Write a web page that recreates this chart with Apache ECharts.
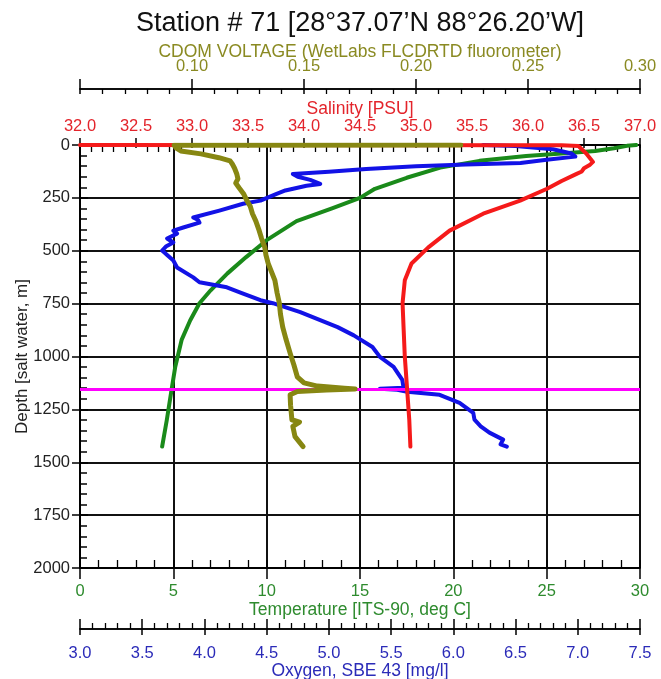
<!DOCTYPE html>
<html>
<head>
<meta charset="utf-8">
<script src="https://cdn.jsdelivr.net/npm/echarts@6/dist/echarts.min.js"></script>
<style>
html,body{margin:0;padding:0;background:#fff;}
#chart{width:661px;height:679px;}
</style>
</head>
<body>
<div id="chart"></div>
<script>
// ---------- data ----------
const titleText = "Station # 71 [28\u00B037.07\u2019N 88\u00B026.20\u2019W]";

const tempDepth = [0, 4, 15, 28, 40, 52, 75, 107, 155, 207, 250, 300, 360, 450, 530, 607, 687, 748, 830, 920, 1050, 1160, 1300, 1426];
const tempVal   = [29.8, 29.3, 28.6, 27.6, 25.8, 23.9, 21.4, 19.3, 17.5, 15.8, 15.0, 13.5, 11.6, 10.0, 8.9, 7.9, 7.0, 6.4, 5.9, 5.45, 5.1, 4.9, 4.65, 4.4];

const salDepth = [0, 1.5, 5, 20, 40, 60, 80, 95, 110, 125, 140, 170, 207, 263, 325, 405, 484, 560, 640, 748, 875, 1000, 1150, 1300, 1426];
const salVal   = [32.0, 36.3, 36.45, 36.48, 36.52, 36.55, 36.58, 36.55, 36.5, 36.48, 36.42, 36.3, 36.17, 35.93, 35.6, 35.3, 35.11, 34.96, 34.9, 34.88, 34.89, 34.9, 34.92, 34.94, 34.95];

const cdomDepth = [0, 1, 15, 28, 42, 60, 75, 90, 110, 137, 160, 180, 202, 230, 263, 290, 325, 360, 405, 440, 484, 520, 560, 600, 640, 700, 748, 800, 861, 920, 984, 1040, 1096, 1125, 1140, 1150, 1154, 1158, 1165, 1181, 1230, 1299, 1310, 1330, 1379, 1426];
const cdomVal   = [0.220, 0.092, 0.093, 0.095, 0.104, 0.112, 0.117, 0.118, 0.119, 0.120, 0.1205, 0.1195, 0.121, 0.123, 0.1245, 0.126, 0.127, 0.1285, 0.130, 0.131, 0.1325, 0.133, 0.134, 0.1355, 0.137, 0.138, 0.139, 0.1395, 0.1405, 0.142, 0.1438, 0.1455, 0.147, 0.150, 0.156, 0.168, 0.1728, 0.160, 0.147, 0.1438, 0.144, 0.1446, 0.148, 0.145, 0.146, 0.1496];

const oxyDepth = [0, 5, 20, 40, 55, 70, 85, 92, 100, 113, 127, 137, 150, 165, 184, 193, 215, 231, 263, 278, 310, 343, 355, 367, 390, 405, 419, 442, 461, 480, 499, 520, 546, 579, 626, 649, 673, 700, 734, 748, 790, 861, 900, 955, 1002, 1049, 1111, 1148, 1153, 1157, 1167, 1181, 1219, 1266, 1299, 1330, 1360, 1393, 1415, 1426];
const oxyVal   = [6.24, 6.5, 6.8, 6.95, 6.98, 6.75, 6.54, 6.1, 5.7, 5.3, 5.0, 4.71, 4.75, 4.85, 4.93, 4.82, 4.65, 4.58, 4.45, 4.31, 4.12, 3.91, 3.95, 3.96, 3.83, 3.75, 3.78, 3.70, 3.75, 3.69, 3.66, 3.70, 3.75, 3.78, 3.91, 3.96, 4.18, 4.3, 4.45, 4.55, 4.77, 5.07, 5.2, 5.35, 5.41, 5.52, 5.59, 5.60, 5.41, 5.55, 5.63, 5.89, 6.05, 6.16, 6.17, 6.22, 6.29, 6.40, 6.38, 6.43];

const markerDepth = [1155];

const depthRange = [0, 2000, 250];
const tempRange  = [0, 30, 5];
const oxyRange   = [3.0, 7.5, 0.5];
const salRange   = [32.0, 37.0, 0.5];
const cdomRange  = [0.05, 0.30, 0.05];

const axisNames = {
  depth: 'Depth [salt water, m]',
  temp: 'Temperature [ITS-90, deg C]',
  oxy: 'Oxygen, SBE 43 [mg/l]',
  sal: 'Salinity [PSU]',
  cdom: 'CDOM VOLTAGE (WetLabs FLCDRTD fluorometer)'
};

// ---------- chart ----------
const FONT = '"Liberation Sans", Arial, sans-serif';
const BLACK = '#000';
const LABEL_SIZE = 16.5;
const NAME_SIZE = 17.5;
const pair = (xs, ds) => xs.map((v, i) => [v, ds[i]]);

function xAxisPair(range, position, offset, labelColor, labelMargin, fmt, name, nameGap, outLen, inLen, minorLen) {
  const base = {
    type: 'value', min: range[0], max: range[1], interval: range[2],
    position: position, offset: offset,
    axisLine: { show: true, onZero: false, lineStyle: { color: BLACK, width: 1.5 } },
    splitLine: { show: false }
  };
  const a = Object.assign({}, base, {
    axisTick: { show: true, length: outLen, inside: false, lineStyle: { color: BLACK, width: 1.5 } },
    axisLabel: { show: true, color: labelColor, fontSize: LABEL_SIZE, fontFamily: FONT, margin: labelMargin, formatter: fmt, showMinLabel: true, showMaxLabel: true },
    name: name, nameLocation: 'middle', nameGap: nameGap, nameMoveOverlap: false,
    nameTextStyle: { color: labelColor, fontSize: NAME_SIZE, fontFamily: FONT }
  });
  const b = Object.assign({}, base, {
    axisTick: { show: true, length: inLen, inside: true, lineStyle: { color: BLACK, width: 1.5 } },
    minorTick: { show: true, splitNumber: 5, length: minorLen, lineStyle: { color: BLACK, width: 1.3 } },
    axisLabel: { show: false }
  });
  return [a, b];
}

const tempAxes = xAxisPair(tempRange, 'bottom', 0, '#2e8b2e', 15, v => String(v), axisNames.temp, 33, 11, 8, 8);
tempAxes[0].splitLine = { show: true, lineStyle: { color: '#111', width: 2 } };
const oxyAxes = xAxisPair(oxyRange, 'bottom', 61, '#2b2bb8', 15.5, v => v.toFixed(1), axisNames.oxy, 33, 6, 10, 6);
const salAxes = xAxisPair(salRange, 'top', 0, '#e3242b', 10, v => v.toFixed(1), axisNames.sal, 27, 7, 3, 7);
const cdomAxes = xAxisPair(cdomRange, 'top', 56, '#8a8a22', 14, v => (v < 0.07 ? '' : v.toFixed(2)), axisNames.cdom, 28, 10, 5, 5);

const xAxes = [].concat(tempAxes, oxyAxes, salAxes, cdomAxes);

const yBase = {
  type: 'value', min: depthRange[0], max: depthRange[1], interval: depthRange[2], inverse: true,
  position: 'left',
  axisLine: { show: true, onZero: false, lineStyle: { color: BLACK, width: 1.5 } }
};
const yAxes = [
  Object.assign({}, yBase, {
    axisTick: { show: true, length: 8, inside: false, lineStyle: { color: BLACK, width: 1.5 } },
    axisLabel: { show: true, color: '#222', fontSize: LABEL_SIZE, fontFamily: FONT, margin: 10, formatter: v => String(v) },
    splitLine: { show: true, lineStyle: { color: '#111', width: 2 } },
    name: axisNames.depth, nameLocation: 'middle', nameGap: 49, nameRotate: 90, nameMoveOverlap: false,
    nameTextStyle: { color: '#222', fontSize: 17, fontFamily: FONT }
  }),
  Object.assign({}, yBase, {
    axisTick: { show: true, length: 8, inside: true, lineStyle: { color: BLACK, width: 1.5 } },
    minorTick: { show: true, splitNumber: 5, length: 7, lineStyle: { color: BLACK, width: 1.5 } },
    axisLabel: { show: false },
    splitLine: { show: false }
  })
];

function lineSeries(name, data, xIdx, color, z, width) {
  return {
    name: name, type: 'line', data: data, xAxisIndex: xIdx, yAxisIndex: 0,
    showSymbol: false, symbol: 'none', smooth: false, z: z,
    lineStyle: { color: color, width: width, join: 'round', cap: 'round' },
    animation: false, silent: true
  };
}

const series = [
  {
    name: 'marker', type: 'line', data: [], xAxisIndex: 0, yAxisIndex: 0, z: 1, silent: true, animation: false,
    markLine: {
      silent: true, symbol: ['none', 'none'], label: { show: false }, animation: false,
      lineStyle: { color: '#ff00ff', width: 3, type: 'solid' },
      data: markerDepth.map(d => ({ yAxis: d }))
    }
  },
  lineSeries('Temperature', pair(tempVal, tempDepth), 0, '#1a8a1a', 3, 4),
  lineSeries('Oxygen', pair(oxyVal, oxyDepth), 2, '#1212e6', 4, 4),
  lineSeries('Salinity', pair(salVal, salDepth), 4, '#f51a1a', 5, 4),
  lineSeries('CDOM', pair(cdomVal, cdomDepth), 6, '#878712', 6, 5)
];

const chart = echarts.init(document.getElementById('chart'), null, { renderer: 'canvas' });
chart.setOption({
  animation: false,
  backgroundColor: '#fff',
  grid: { left: 80, right: 21, top: 145, bottom: 111, containLabel: false, outerBoundsMode: 'none' },
  graphic: [{
    type: 'text', x: 360, y: 24,
    style: { text: titleText, fill: '#111', font: '27px "Liberation Sans", Arial, sans-serif', textAlign: 'center', textVerticalAlign: 'middle' }
  }],
  xAxis: xAxes,
  yAxis: yAxes,
  series: series
});
</script>
</body>
</html>
